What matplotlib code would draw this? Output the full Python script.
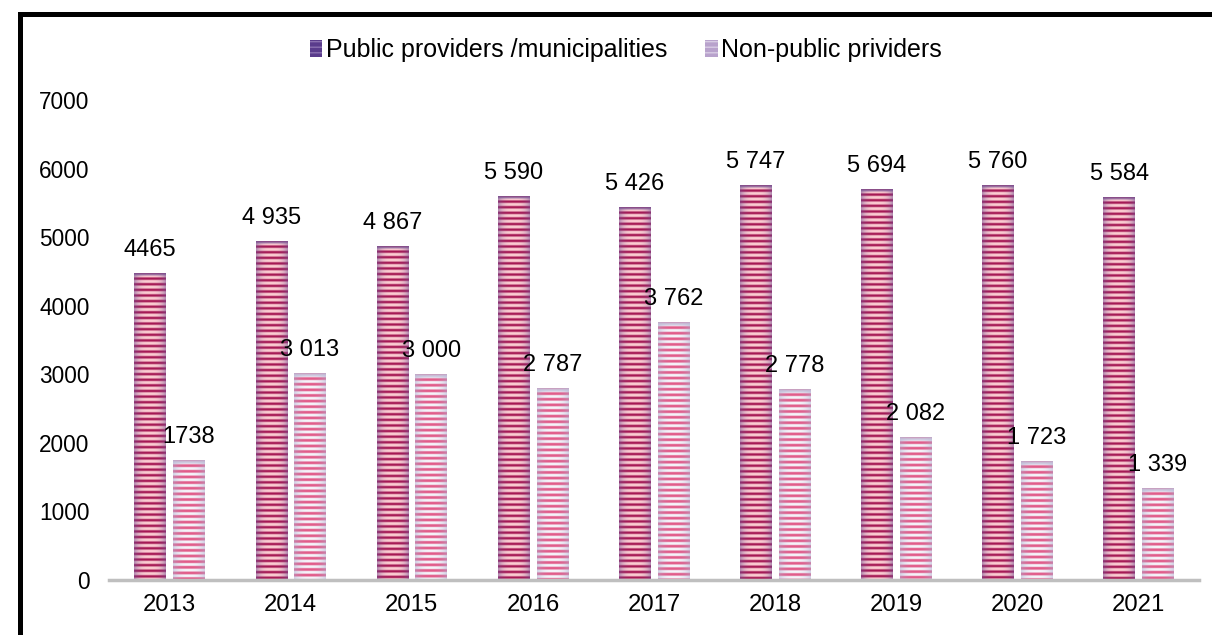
import numpy as np
import matplotlib
matplotlib.use("Agg")
import matplotlib.pyplot as plt
from matplotlib.patches import Patch, Rectangle

years = ["2013", "2014", "2015", "2016", "2017", "2018", "2019", "2020", "2021"]
public_vals = [4465, 4935, 4867, 5590, 5426, 5747, 5694, 5760, 5584]
nonpublic_vals = [1738, 3013, 3000, 2787, 3762, 2778, 2082, 1723, 1339]
public_labels = ["4465", "4 935", "4 867", "5 590", "5 426", "5 747", "5 694", "5 760", "5 584"]
nonpublic_labels = ["1738", "3 013", "3 000", "2 787", "3 762", "2 778", "2 082", "1 723", "1 339"]
series_names = ["Public providers /municipalities", "Non-public prividers"]
yticks = [0, 1000, 2000, 3000, 4000, 5000, 6000, 7000]

plt.rcParams['font.family'] = ['Liberation Sans', 'DejaVu Sans']
FS_TICK_Y = 16.3
FS_TICK_X = 17.2
FS_LAB = 17
FS_LEG = 18

W, H = 1212, 635
fig = plt.figure(figsize=(W / 100, H / 100), dpi=100)
ax = fig.add_axes([109 / W, 1 - 580 / H, (1199 - 109) / W, (580 - 100) / H])

x = np.arange(len(years))
bw = 0.26
off = 0.16
ax.set_xlim(-0.5, len(years) - 0.5)
ax.set_ylim(0, 7000)

bars_pub = ax.bar(x - off, public_vals, bw, color='#B0245C', zorder=2)
bars_non = ax.bar(x + off, nonpublic_vals, bw, color='#F0B0C8', zorder=2)


def px_size(patch):
    x0, y0 = patch.get_x(), patch.get_y()
    x1, y1 = x0 + patch.get_width(), y0 + patch.get_height()
    p0 = ax.transData.transform((x0, y0))
    p1 = ax.transData.transform((x1, y1))
    return abs(p1[0] - p0[0]), abs(p1[1] - p0[1])


def texture(kind, w_px, h_px):
    period = 5.6
    sub = 4
    rows = max(int(h_px * sub), 4)
    cols = max(int(w_px * 2), 8)
    yy = (np.arange(rows) + 0.5) / sub
    xx = (np.arange(cols) + 0.5) / cols
    phase = (yy % period) / period
    edge = np.abs(2 * xx - 1)
    if kind == 'pub':
        dark = np.array([165, 22, 82]) / 255
        light = np.array([252, 205, 210]) / 255
        edgec = np.array([110, 75, 145]) / 255
        s = 0.5 + 0.5 * np.cos(2 * np.pi * phase)
        s = np.clip((s - 0.3) * 1.7, 0, 1)
        col = light[None, :] * (1 - s[:, None]) + dark[None, :] * s[:, None]
        img = np.repeat(col[:, None, :], cols, axis=1)
        wgt = (edge ** 3.0) * 0.55
        img = img * (1 - wgt[None, :, None]) + edgec[None, None, :] * wgt[None, :, None]
        cap = np.array([125, 95, 155]) / 255
        capn = int(2.5 * sub)
    else:
        pink = np.array([226, 92, 138]) / 255
        white = np.array([246, 244, 250]) / 255
        edgec = np.array([170, 170, 205]) / 255
        s = 0.5 + 0.5 * np.cos(2 * np.pi * phase)
        s = np.clip((s - 0.35) * 3.0, 0, 1)
        col = white[None, :] * (1 - s[:, None]) + pink[None, :] * s[:, None]
        img = np.repeat(col[:, None, :], cols, axis=1)
        wgt = (edge ** 2.5) * 0.5
        img = img * (1 - wgt[None, :, None]) + edgec[None, None, :] * wgt[None, :, None]
        cap = np.array([190, 188, 215]) / 255
        capn = int(3.5 * sub)
    capn = min(capn, rows)
    img[:capn] = img[:capn] * 0.3 + cap[None, None, :] * 0.7
    return np.clip(img, 0, 1)


for bars, kind in ((bars_pub, 'pub'), (bars_non, 'non')):
    for b in bars:
        w_px, h_px = px_size(b)
        tex = texture(kind, w_px, h_px)
        x0 = b.get_x()
        ax.imshow(tex, extent=(x0, x0 + b.get_width(), 0, b.get_height()),
                  aspect='auto', interpolation='bilinear', zorder=3)

ax.set_xlim(-0.5, len(years) - 0.5)
ax.set_ylim(0, 7000)

for b, lab in zip(bars_pub, public_labels):
    ax.annotate(lab, (b.get_x() + b.get_width() / 2, b.get_height()),
                xytext=(0, 9), textcoords='offset points', ha='center', va='bottom',
                fontsize=FS_LAB, color='black', zorder=5)
for b, lab in zip(bars_non, nonpublic_labels):
    ax.annotate(lab, (b.get_x() + b.get_width() / 2, b.get_height()),
                xytext=(0, 9), textcoords='offset points', ha='center', va='bottom',
                fontsize=FS_LAB, color='black', zorder=5)

ax.set_xticks(x)
ax.set_xticklabels(years, fontsize=FS_TICK_X)
ax.set_yticks(yticks)
ax.set_yticklabels([str(v) for v in yticks], fontsize=FS_TICK_Y)
ax.tick_params(axis='both', length=0)
ax.tick_params(axis='y', pad=14)
ax.tick_params(axis='x', pad=10)
for sp in ['top', 'right', 'left']:
    ax.spines[sp].set_visible(False)
ax.spines['bottom'].set_color('#BFBFBF')
ax.spines['bottom'].set_linewidth(2.5)
ax.spines['bottom'].set_zorder(4)

handles = [Patch(facecolor='#5A3C8C', edgecolor='#8A70B0', hatch='---', linewidth=0),
           Patch(facecolor='#B8A2CC', edgecolor='#D8CCE4', hatch='---', linewidth=0)]
fig.legend(handles, series_names, loc='center', bbox_to_anchor=(626 / W, 1 - 50 / H),
           ncol=2, frameon=False, fontsize=FS_LEG, handlelength=0.5, handleheight=0.7,
           handletextpad=0.15, columnspacing=1.5, borderaxespad=0)

border = Rectangle((19.5 / W, -0.5), 2.0, 1.5 - 13.5 / H, transform=fig.transFigure,
                   fill=False, edgecolor='black', linewidth=3.6, clip_on=False)
fig.patches.append(border)

fig.savefig("out.png", dpi=100)
